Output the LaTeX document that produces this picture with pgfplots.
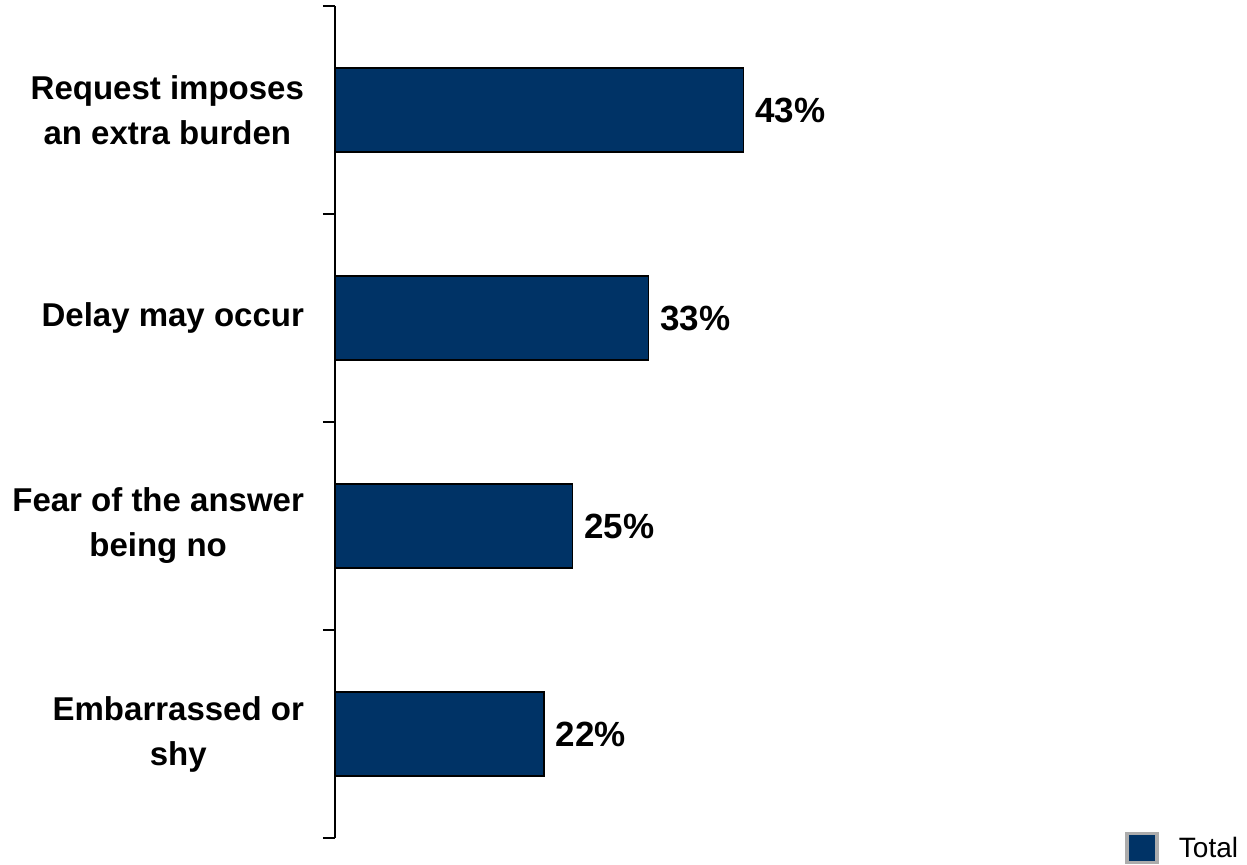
\documentclass[border=0pt]{standalone}
\usepackage{pgfplots}
\pgfplotsset{compat=1.18}
\usepackage{fontspec}
\setmainfont{Liberation Sans}
\definecolor{barblue}{RGB}{0,51,102}
\begin{document}
\begin{tikzpicture}
\useasboundingbox (0,0) rectangle (623.5pt,432.5pt);
\begin{axis}[
  at={(167.5pt,13.5pt)}, anchor=south west,
  scale only axis,
  width=451.25pt, height=416pt,
  xmin=0, xmax=95,
  ymin=-0.5, ymax=3.5,
  axis x line=none,
  axis y line*=left,
  y axis line style={black, line width=1pt},
  xbar, bar width=42pt,
  ytick={0,1,2,3},
  yticklabels={{Embarrassed or\\shy},{Fear of the answer\\being no},{Delay may occur},{Request imposes\\an extra burden}},
  major tick length=0pt,
  yticklabel style={align=center, anchor=east, font=\fontsize{16.5}{22.5}\selectfont\bfseries, xshift=-12pt},
  extra y ticks={-0.5,0.5,1.5,2.5,3.5},
  extra y tick labels={},
  extra y tick style={major tick length=6pt, tick align=outside, tick style={black, line width=1pt}},
  nodes near coords={\pgfmathprintnumber[assume math mode=true]{\pgfplotspointmeta}\%},
  point meta=x,
  nodes near coords style={font=\fontsize{17.5}{20}\selectfont\bfseries, anchor=west, inner sep=0pt, xshift=5.5pt},
  legend style={at={(axis description cs:1,0)}, anchor=east, yshift=-5pt, xshift=2.5pt, draw=none, fill=none, font=\fontsize{14}{16}\selectfont, inner sep=0pt, /tikz/every odd column/.append style={column sep=8pt}},
  legend image code/.code={\draw[fill=barblue, draw=gray!65, line width=1.8pt] (0pt,-7pt) rectangle (15pt,7.5pt);},
  legend cell align=left,
  clip=false,
]
\addplot[fill=barblue, draw=black, line width=0.7pt] coordinates {(22,0) (25,1) (33,2) (43,3)};
\addlegendentry{Total}
\end{axis}
\end{tikzpicture}
\end{document}
